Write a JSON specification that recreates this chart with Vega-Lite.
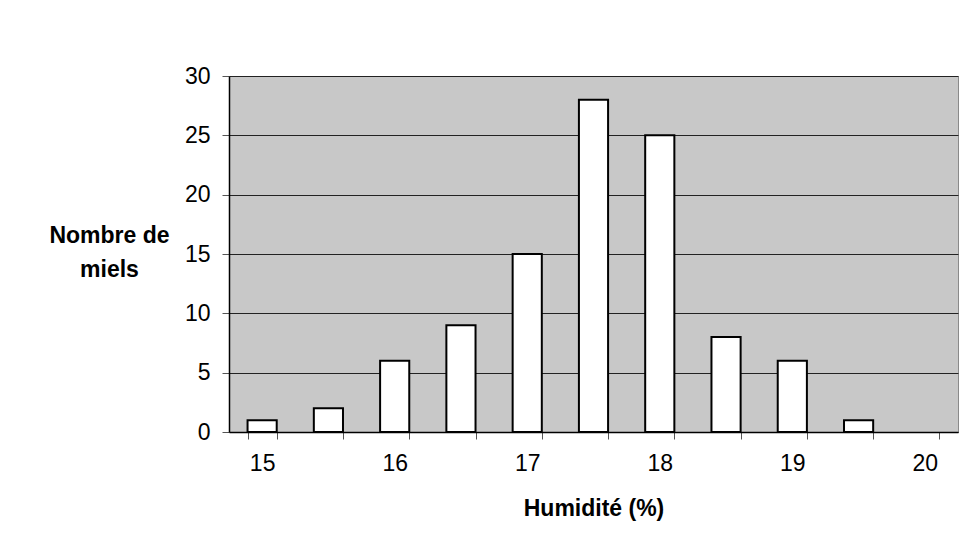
{
  "$schema": "https://vega.github.io/schema/vega-lite/v6.json",
  "width": 729,
  "height": 356,
  "autosize": "none",
  "padding": {"left": 229, "top": 76, "right": 5, "bottom": 117},
  "background": "white",
  "config": {
    "font": "Liberation Sans",
    "view": {"fill": "#c8c8c8", "stroke": "#8a8a8a", "strokeWidth": 1}
  },
  "data": {
    "values": [
      {"humidite": "15", "nombre": 1},
      {"humidite": "15.5", "nombre": 2},
      {"humidite": "16", "nombre": 6},
      {"humidite": "16.5", "nombre": 9},
      {"humidite": "17", "nombre": 15},
      {"humidite": "17.5", "nombre": 28},
      {"humidite": "18", "nombre": 25},
      {"humidite": "18.5", "nombre": 8},
      {"humidite": "19", "nombre": 6},
      {"humidite": "19.5", "nombre": 1}
    ]
  },
  "mark": {"type": "bar", "fill": "white", "stroke": "black", "strokeWidth": 2},
  "encoding": {
    "x": {
      "field": "humidite",
      "type": "ordinal",
      "sort": null,
      "scale": {
        "domain": ["15", "15.5", "16", "16.5", "17", "17.5", "18", "18.5", "19", "19.5", "20"],
        "paddingInner": 0.56,
        "paddingOuter": 0.28
      },
      "axis": {
        "title": "Humidité (%)",
        "titleFont": "Liberation Sans",
        "titleFontSize": 23,
        "titleFontWeight": "bold",
        "titleColor": "black",
        "titlePadding": 22,
        "labelAngle": 0,
        "labelFont": "Liberation Sans",
        "labelFontSize": 23,
        "labelColor": "black",
        "labelPadding": 13,
        "labelExpr": "indexof(datum.label, '.') >= 0 ? '' : datum.label",
        "tickBand": "extent",
        "tickSize": 7,
        "tickColor": "#555",
        "domainColor": "black",
        "domainWidth": 1.5,
        "grid": false
      }
    },
    "y": {
      "field": "nombre",
      "type": "quantitative",
      "scale": {"domain": [0, 30], "nice": false},
      "axis": {
        "values": [0, 5, 10, 15, 20, 25, 30],
        "title": ["Nombre de", "miels"],
        "titleAngle": 0,
        "titleFont": "Liberation Sans",
        "titleFontSize": 23,
        "titleFontWeight": "bold",
        "titleColor": "black",
        "titleAlign": "center",
        "titleBaseline": "middle",
        "titleLineHeight": 34,
        "titleX": -120,
        "titleY": 159,
        "labelFont": "Liberation Sans",
        "labelFontSize": 23,
        "labelColor": "black",
        "labelPadding": 12,
        "tickSize": 7,
        "tickColor": "#555",
        "domainColor": "black",
        "domainWidth": 1.5,
        "grid": true,
        "gridColor": "#222",
        "gridWidth": 1
      }
    }
  }
}
